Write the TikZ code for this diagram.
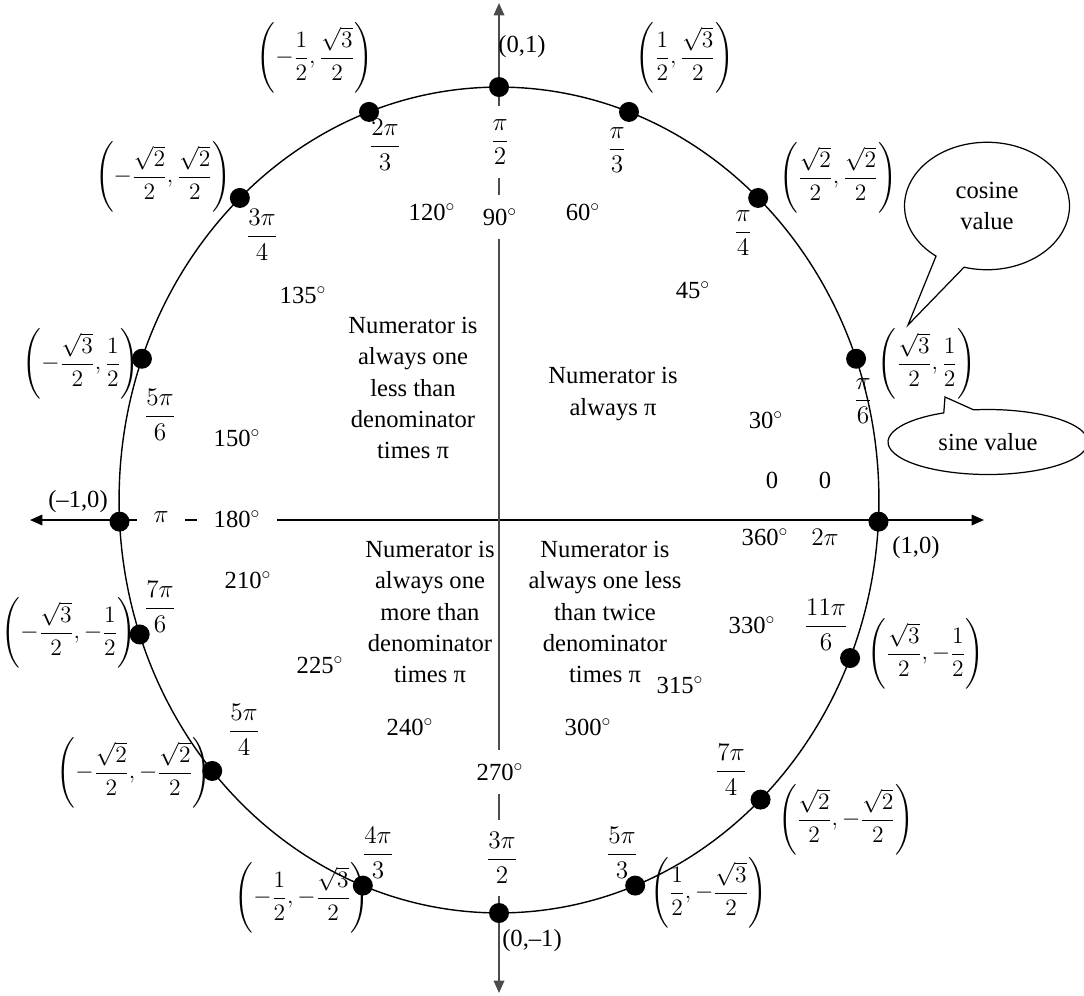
\documentclass[tikz,border=0pt]{standalone}
\usepackage{amsmath}
\usepackage{graphicx}
\usepackage{fontspec}
\setmainfont{Liberation Serif}
\usetikzlibrary{arrows.meta, shapes.callouts}

% coordinate pair in tall brackets
\newcommand{\cpair}[2]{\scalebox{0.93}{$\left(#1,#2\right)$}}
\newcommand{\dgr}[1]{#1$^{\circ}$}

\begin{document}
\begin{tikzpicture}[x=0.02cm, y=-0.02cm, font=\fontsize{14}{17.8}\selectfont,
    >={Triangle[length=7pt,width=6pt]},
    dot/.style={circle, fill=black, inner sep=0pt, minimum size=0.4cm},
    coordlbl/.style={inner sep=1pt},
    axlblh/.style={fill=white, inner xsep=0.34cm, inner ysep=1pt},
    axlblv/.style={fill=white, inner xsep=1pt, inner ysep=0.26cm},
    regiontxt/.style={align=center},
    bubble/.style={ellipse callout, draw, line width=0.7pt, align=center}]

  \useasboundingbox (0,0) rectangle (1084,995);

  % ---- Axes ----
  \coordinate (axL) at (30,520);
  \coordinate (axR) at (984,520);
  \coordinate (axT) at (499,3);
  \coordinate (axB) at (499,993);
  \draw[<->, line width=0.9pt] (axL) -- (axR);
  \draw[<->, line width=0.9pt, gray!60!black] (axT) -- (axB);

  % ---- Circle ----
  \coordinate (O) at (499,500);
  \draw[line width=0.8pt] (O) ellipse [x radius=7.6cm, y radius=8.26cm];

  % ---- Points on the circle ----
  \begin{scope}[shift={(O)}]
    \foreach \t/\n in {20/p30, 47/p45, 70/p60, 90/p90, 110/p120, 133/p135,
                       160/p150, 183/p180, 199/p210, 221/p225, 249/p240,
                       270/p270, 291/p300, 313.5/p315, 337.5/p330, 357/p0}
      \node[dot] (\n) at (-\t:380 and 413) {};
  \end{scope}

  % ---- Coordinates ----
  \node (c90) at (522,47) {(0,1)};
  \node[coordlbl] (c60) at (685,58) {\cpair{\dfrac{1}{2}}{\dfrac{\sqrt{3}}{2}}};
  \node[coordlbl] (c45) at (838,178) {\cpair{\dfrac{\sqrt{2}}{2}}{\dfrac{\sqrt{2}}{2}}};
  \node[coordlbl] (c30) at (927,364) {\cpair{\dfrac{\sqrt{3}}{2}}{\dfrac{1}{2}}};
  \node (c0) at (916,548) {(1,0)};
  \node[coordlbl] (c330) at (926,654) {\cpair{\dfrac{\sqrt{3}}{2}}{-\dfrac{1}{2}}};
  \node[coordlbl] (c315) at (846,820) {\cpair{\dfrac{\sqrt{2}}{2}}{-\dfrac{\sqrt{2}}{2}}};
  \node[coordlbl] (c300) at (709,893) {\cpair{\dfrac{1}{2}}{-\dfrac{\sqrt{3}}{2}}};
  \node (c270) at (532,941) {(0,--1)};
  \node[coordlbl] (c240) at (302,898) {\cpair{-\dfrac{1}{2}}{-\dfrac{\sqrt{3}}{2}}};
  \node[coordlbl] (c225) at (134,773) {\cpair{-\dfrac{\sqrt{2}}{2}}{-\dfrac{\sqrt{2}}{2}}};
  \node[coordlbl] (c210) at (69,633) {\cpair{-\dfrac{\sqrt{3}}{2}}{-\dfrac{1}{2}}};
  \node (c180) at (78,502) {(--1,0)};
  \node[coordlbl] (c150) at (81,364) {\cpair{-\dfrac{\sqrt{3}}{2}}{\dfrac{1}{2}}};
  \node[coordlbl] (c135) at (163,177) {\cpair{-\dfrac{\sqrt{2}}{2}}{\dfrac{\sqrt{2}}{2}}};
  \node[coordlbl] (c120) at (315,58) {\cpair{-\dfrac{1}{2}}{\dfrac{\sqrt{3}}{2}}};

  % ---- Radians ----
  \node[axlblv] (r90) at (500,142) {$\dfrac{\pi}{2}$};
  \node (r60) at (617,150) {$\dfrac{\pi}{3}$};
  \node (r120) at (385,145) {$\dfrac{2\pi}{3}$};
  \node (r45) at (743,233) {$\dfrac{\pi}{4}$};
  \node (r135) at (262,235) {$\dfrac{3\pi}{4}$};
  \node (r30) at (863,401) {$\dfrac{\pi}{6}$};
  \node (r150) at (160,415) {$\dfrac{5\pi}{6}$};
  \node[axlblh] (r180) at (161,517) {$\pi$};
  \node (r0) at (825,480) {0};
  \node (r360) at (825,537) {$2\pi$};
  \node (r330) at (826,625) {$\dfrac{11\pi}{6}$};
  \node (r315) at (731,770) {$\dfrac{7\pi}{4}$};
  \node (r300) at (622,853) {$\dfrac{5\pi}{3}$};
  \node[axlblv] (r270) at (502,858) {$\dfrac{3\pi}{2}$};
  \node (r240) at (378,853) {$\dfrac{4\pi}{3}$};
  \node (r225) at (244,730) {$\dfrac{5\pi}{4}$};
  \node (r210) at (160,607) {$\dfrac{7\pi}{6}$};

  % ---- Degrees ----
  \node (d120) at (432,212) {\dgr{120}};
  \node[axlblv] (d90) at (500,217) {\dgr{90}};
  \node (d60) at (583,212) {\dgr{60}};
  \node (d135) at (303,295) {\dgr{135}};
  \node (d45) at (693,290) {\dgr{45}};
  \node (d150) at (237,438) {\dgr{150}};
  \node (d30) at (766,420) {\dgr{30}};
  \node (d0) at (772,480) {0};
  \node (d360) at (765,537) {\dgr{360}};
  \node[axlblh] (d180) at (237,519) {\dgr{180}};
  \node (d210) at (248,580) {\dgr{210}};
  \node (d225) at (320,665) {\dgr{225}};
  \node (d240) at (410,727) {\dgr{240}};
  \node[axlblv] (d270) at (500,772) {\dgr{270}};
  \node (d300) at (588,727) {\dgr{300}};
  \node (d315) at (680,685) {\dgr{315}};
  \node (d330) at (752,625) {\dgr{330}};

  % ---- Quadrant notes ----
  \node[regiontxt] (qTL) at (413,388) {Numerator is\\always one\\less than\\denominator\\times π};
  \node[regiontxt] (qTR) at (613,394) {Numerator is\\always π};
  \node[regiontxt] (qBL) at (430,612) {Numerator is\\always one\\more than\\denominator\\times π};
  \node[regiontxt] (qBR) at (605,612) {Numerator is\\always one less\\than twice\\denominator\\times π};

  % ---- Callouts ----
  \coordinate (cosTip) at (908,325);
  \coordinate (sinTip) at (945,397);
  \node[bubble, minimum width=3.3cm, minimum height=2.55cm, callout absolute pointer={(cosTip)},
        callout pointer arc=22] (cosBub) at (987,206) {cosine\\value};
  \node[bubble, minimum width=4cm, minimum height=1.3cm, callout absolute pointer={(sinTip)},
        callout pointer arc=18] (sinBub) at (988,442) {sine value};

\end{tikzpicture}
\end{document}
